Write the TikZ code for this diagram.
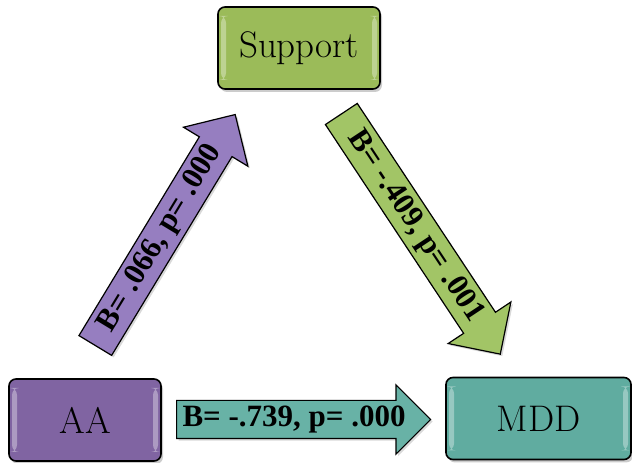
\documentclass[tikz,border=0pt]{standalone}
\usepackage{fontspec}
\newfontfamily\labfont{Liberation Serif}
\usetikzlibrary{shapes.arrows,shadows}
\definecolor{supgreen}{RGB}{155,187,89}
\definecolor{aapurple}{RGB}{128,100,162}
\definecolor{mddteal}{RGB}{96,172,160}
\definecolor{arrpurple}{RGB}{150,126,192}
\definecolor{arrgreen}{RGB}{162,197,102}
\definecolor{arrteal}{RGB}{104,178,166}
\begin{document}
\begin{tikzpicture}[x=1pt,y=1pt,
  box/.style={draw=black, line width=1.6pt, rounded corners=7pt, fill=#1,
    minimum height=82pt, inner sep=0pt, font=\fontsize{37}{42}\selectfont,
    drop shadow={shadow xshift=2pt, shadow yshift=-3pt, opacity=.4},
    path picture={
      \fill[white, opacity=.35] ([xshift=3pt,yshift=-9pt]path picture bounding box.north west)
        rectangle ([xshift=8pt,yshift=9pt]path picture bounding box.south west);
      \fill[white, opacity=.35] ([xshift=-3pt,yshift=-9pt]path picture bounding box.north east)
        rectangle ([xshift=-8pt,yshift=9pt]path picture bounding box.south east);}},
  barrow/.style={single arrow, draw=black, line width=1.2pt, fill=#1, anchor=tail,
    inner xsep=4pt, inner ysep=5pt, text height=21pt, text depth=6pt,
    single arrow head indent=0pt, font=\labfont\bfseries\fontsize{31}{35}\selectfont,
    drop shadow={shadow xshift=2pt, shadow yshift=-2pt, opacity=.3}}]
\useasboundingbox (0,0) rectangle (632,463);
% boxes
\node[box=supgreen, minimum width=162pt] (box0) at (299,415) {Support};
\node[box=aapurple, minimum width=152pt] (box1) at (85,43) {AA};
\node[box=mddteal, minimum width=185pt] (box2) at (538.5,44.5) {MDD};
% block arrows
\node[barrow=arrpurple, rotate=58.8, minimum height=270pt, single arrow head extend=18.5pt] (arr0) at (95,117) {B= .066, p= .000};
\node[barrow=arrgreen, rotate=-56.5, minimum height=288pt, single arrow head extend=18.5pt] (arr1) at (341,349.5) {B= -.409, p= .001};
\node[barrow=arrteal, minimum height=254pt, single arrow head extend=15.5pt] (arr2) at (176,43.5) {B= -.739, p= .000};
\end{tikzpicture}
\end{document}
